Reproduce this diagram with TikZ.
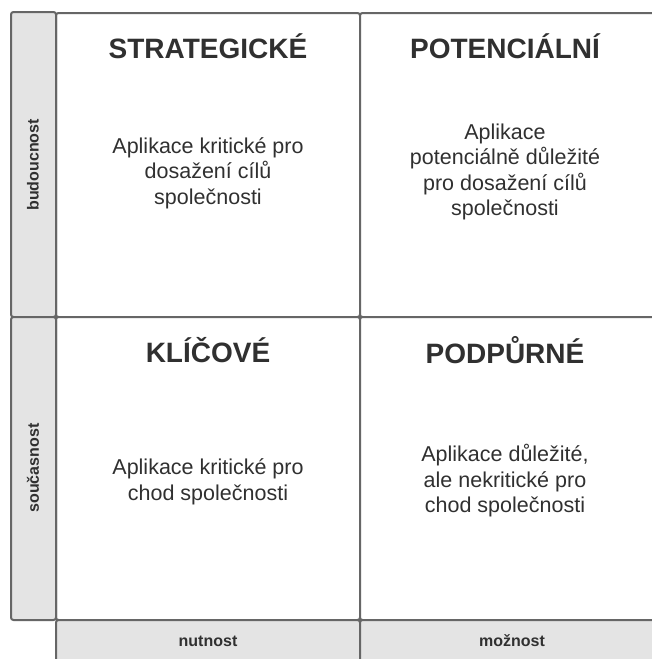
\documentclass[tikz,border=0pt]{standalone}
\usepackage{fontspec}
\setmainfont{Liberation Sans}
\begin{document}
\begin{tikzpicture}[x=1pt,y=-1pt,
  frame/.style={draw=linegray, line width=2pt, rounded corners=2.5pt},
  cell/.style={frame, fill=white},
  axisbox/.style={frame, fill=boxgray},
  title/.style={font=\fontsize{28}{32}\selectfont\bfseries, text=textdark},
  body/.style={font=\fontsize{21.5}{25.5}\selectfont, text=textdark, align=center},
  axislabel/.style={font=\fontsize{16}{20}\selectfont\bfseries, text=textdark}]
\definecolor{linegray}{HTML}{666666}
\definecolor{boxgray}{HTML}{E4E4E4}
\definecolor{textdark}{HTML}{303030}
\useasboundingbox (0,0) rectangle (652,659);
\clip (0,0) rectangle (652,659);
\fill[white] (0,0) rectangle (652,659);

% quadrant cells
\draw[cell] (56,13) rectangle (360,317);
\draw[cell] (360,13) rectangle (670,317);
\draw[cell] (56,317) rectangle (360,620);
\draw[cell] (360,317) rectangle (670,620);

% time axis (left)
\draw[axisbox] (11,12) rectangle (56,317);
\draw[axisbox] (11,317) rectangle (56,620);
% importance axis (bottom)
\draw[axisbox] (56,620) rectangle (360,690);
\draw[axisbox] (360,620) rectangle (670,690);

% titles
\node[title] (strat) at (208,46) {STRATEGICKÉ};
\node[title] (pot)   at (505,46) {POTENCIÁLNÍ};
\node[title] (klic)  at (208,350) {KLÍČOVÉ};
\node[title] (podp)  at (505,350) {PODPŮRNÉ};

% descriptions
\node[body] (stratd) at (208,173) {Aplikace kritické pro\\dosažení cílů\\společnosti};
\node[body] (potd)   at (505,172) {Aplikace\\potenciálně důležité\\pro dosažení cílů\\společnosti};
\node[body] (klicd)  at (208,482) {Aplikace kritické pro\\chod společnosti};
\node[body] (podpd)  at (505,481) {Aplikace důležité,\\ale nekritické pro\\chod společnosti};

% axis labels
\node[axislabel, rotate=90] (fut) at (33,165) {budoucnost};
\node[axislabel, rotate=90] (now) at (33,468) {současnost};
\node[axislabel] (nut) at (208,641) {nutnost};
\node[axislabel] (moz) at (512,641) {možnost};
\end{tikzpicture}
\end{document}
